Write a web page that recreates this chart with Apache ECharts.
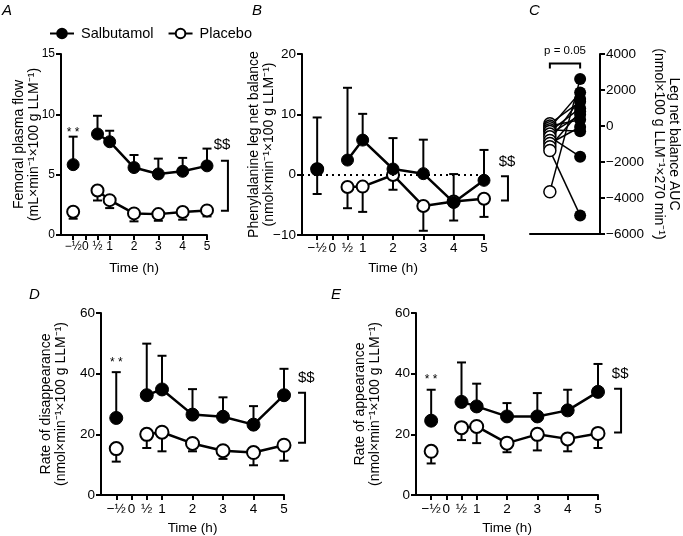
<!DOCTYPE html>
<html><head><meta charset="utf-8">
<script src="https://cdn.jsdelivr.net/npm/echarts@6/dist/echarts.min.js"></script>
<style>html,body{margin:0;padding:0;background:#fff}#c{width:683px;height:536px}</style>
</head><body><div id="c"></div>
<script>
// ---------- data ----------
const timePoints = [-0.5, 0.5, 1, 2, 3, 4, 5];
const xTickValues = [-0.5, 0, 0.5, 1, 2, 3, 4, 5];

// A: femoral plasma flow
const flowSal    = [5.83, 8.37, 7.73, 5.59, 5.06, 5.28, 5.73];
const flowSalErr = [8.15, 9.88, 8.64, 6.63, 6.33, 6.39, 7.16];
const flowPla    = [1.93, 3.69, 2.89, 1.79, 1.73, 1.90, 2.04];
const flowPlaErr = [1.35, 2.86, 2.23, 1.13, 1.18, 1.27, 1.54];

// B: phenylalanine leg net balance
const pheSal    = [0.94, 2.42, 5.73, 0.94, 0.17, -4.6, -0.94];
const pheSalErr = [9.48, 14.4, 10.08, 6.06, 5.8, 0.1, 4.1];
const phePla    = [0.9, -2.04, -1.98, -0.05, -5.2, -4.45, -4.0];
const phePlaErr = [-3.2, -5.56, -6.17, -2.5, -9.3, -7.6, -7.0];

// C: leg net balance AUC (paired)
const aucPla = [126, 0, -100, -203, -300, -450, -604, -800, -972, -1150, -1357, -3648];
const aucSal = [1352, 346, 1868, -297, 989, 621, -1703, 1500, -55, 800, -4967, 2615];

// D: rate of disappearance
const rdSal    = [25.4, 32.9, 34.8, 26.5, 25.8, 23.2, 32.9];
const rdSalErr = [40.5, 49.9, 45.9, 34.9, 32.2, 29.3, 41.6];
const rdPla    = [15.3, 20.0, 20.7, 17.0, 14.6, 14.0, 16.4];
const rdPlaErr = [11.0, 15.5, 14.4, 14.4, 11.9, 9.8, 11.3];

// E: rate of appearance
const raSal    = [24.5, 30.7, 29.2, 25.9, 25.9, 27.9, 34.0];
const raSalErr = [34.7, 43.7, 36.7, 30.3, 33.6, 34.7, 43.2];
const raPla    = [14.4, 22.2, 22.6, 17.1, 20.0, 18.5, 20.3];
const raPlaErr = [10.4, 18.1, 17.1, 14.1, 14.7, 14.4, 15.5];

// ---------- helpers ----------
const FONT = '"Liberation Sans", Arial, Helvetica, sans-serif';
const BLACK = '#000';
const fmtX = v => v === -0.5 ? '\u2212\u00bd' : (v === 0.5 ? '\u00bd' : String(v));
const fmtY = v => String(v).replace('-', '\u2212');

function timeX(gi, fs, labelMargin, nameGap) {
  return {
    type: 'value', gridIndex: gi, min: -1, max: 5,
    axisLine: { show: true, onZero: false, lineStyle: { color: BLACK, width: 2 } },
    axisTick: { show: true, customValues: xTickValues, length: 5, lineStyle: { color: BLACK, width: 2 } },
    axisLabel: { show: true, customValues: xTickValues, formatter: fmtX, color: BLACK, fontSize: fs, fontFamily: FONT, margin: labelMargin },
    splitLine: { show: false },
    name: 'Time (h)', nameLocation: 'middle', nameGap: nameGap, nameMoveOverlap: false,
    nameTextStyle: { color: BLACK, fontSize: 13.5, fontFamily: FONT }
  };
}
function valY(gi, min, max, interval, fs, name, nameGap, extra) {
  return Object.assign({
    type: 'value', gridIndex: gi, min: min, max: max, interval: interval,
    axisLine: { show: true, onZero: false, lineStyle: { color: BLACK, width: 2 } },
    axisTick: { show: true, length: 5, lineStyle: { color: BLACK, width: 2 } },
    axisLabel: { formatter: fmtY, color: BLACK, fontSize: fs, fontFamily: FONT, margin: 6 },
    splitLine: { show: false },
    name: name, nameLocation: 'middle', nameGap: nameGap, nameMoveOverlap: false,
    nameTextStyle: { color: BLACK, fontSize: 14, fontFamily: FONT, lineHeight: 15.5 }
  }, extra || {});
}
function errSeries(gi, vals, ends) {
  return {
    type: 'custom', xAxisIndex: gi, yAxisIndex: gi, silent: true, z: 1, clip: false,
    data: timePoints.map((t, i) => [t, vals[i], ends[i]]),
    renderItem: (p, api) => {
      const a = api.coord([api.value(0), api.value(1)]);
      const b = api.coord([api.value(0), api.value(2)]);
      const w = 4.5;
      return { type: 'group', children: [
        { type: 'line', shape: { x1: a[0], y1: a[1], x2: b[0], y2: b[1] }, style: { stroke: BLACK, lineWidth: 2 } },
        { type: 'line', shape: { x1: b[0] - w, y1: b[1], x2: b[0] + w, y2: b[1] }, style: { stroke: BLACK, lineWidth: 2 } }
      ] };
    }
  };
}
function lineData(vals) {
  const d = [[timePoints[0], vals[0]], [0, '-']];
  for (let i = 1; i < timePoints.length; i++) d.push([timePoints[i], vals[i]]);
  return d;
}
function lineSeries(gi, name, vals, filled, size) {
  return {
    type: 'line', name: name, xAxisIndex: gi, yAxisIndex: gi,
    data: lineData(vals), connectNulls: false, z: filled ? 4 : 3,
    symbol: 'circle', symbolSize: size, showAllSymbol: true,
    lineStyle: { color: BLACK, width: 2.5 },
    itemStyle: filled ? { color: BLACK, borderColor: BLACK, borderWidth: 1, opacity: 1 }
                      : { color: '#fff', borderColor: BLACK, borderWidth: 2, opacity: 1 },
    emphasis: { disabled: true }, animation: false
  };
}
// annotation layer in data coordinates
function annot(gi, items) {
  return {
    type: 'custom', xAxisIndex: gi, yAxisIndex: gi, silent: true, z: 6, clip: false,
    data: [[0, 0]],
    renderItem: (p, api) => {
      const ch = [];
      items.forEach(it => {
        if (it.kind === 'text') {
          const c = api.coord(it.at);
          ch.push({ type: 'text', style: { text: it.text, x: c[0], y: c[1] + (it.dy || 0), fill: BLACK,
            fontSize: it.size, fontFamily: FONT, align: 'center', verticalAlign: 'middle' } });
        } else if (it.kind === 'sideBracket') {
          const t = api.coord([it.x, it.y1]), b = api.coord([it.x, it.y2]);
          ch.push({ type: 'polyline', shape: { points: [[t[0] - 7, t[1]], [t[0], t[1]], [b[0], b[1]], [b[0] - 7, b[1]]] },
            style: { stroke: BLACK, lineWidth: 2, fill: null } });
        } else if (it.kind === 'topBracket') {
          const l = api.coord([it.x1, it.y]), r = api.coord([it.x2, it.y]);
          ch.push({ type: 'polyline', shape: { points: [[l[0], l[1] + 5], [l[0], l[1]], [r[0], r[1]], [r[0], r[1] + 5]] },
            style: { stroke: BLACK, lineWidth: 2, fill: null } });
        }
      });
      return { type: 'group', children: ch };
    }
  };
}

// ---------- option ----------
const grids = [
  { left: 61, top: 54, width: 146, height: 181 },   // A
  { left: 302, top: 54, width: 182, height: 181 },  // B
  { left: 530, top: 54, width: 74, height: 180 },   // C
  { left: 101, top: 313, width: 183, height: 182 }, // D
  { left: 416, top: 313, width: 182, height: 182 }  // E
];

const xAxes = [
  timeX(0, 12, 6, 26),
  timeX(1, 13.5, 6, 26),
  { type: 'value', gridIndex: 2, min: -0.656, max: 1.656,
    axisLine: { show: true, onZero: false, lineStyle: { color: BLACK, width: 2 } },
    axisTick: { show: false }, axisLabel: { show: false }, splitLine: { show: false } },
  timeX(3, 13.5, 7, 26),
  timeX(4, 13.5, 7, 26)
];
const yAxes = [
  valY(0, 0, 15, 5, 12, 'Femoral plasma flow\n(mL\u00d7min\u207b\u00b9\u00d7100 g LLM\u207b\u00b9)', 19),
  valY(1, -10, 20, 10, 13.5, 'Phenylalanine leg net balance\n(nmol\u00d7min\u207b\u00b9\u00d7100 g LLM\u207b\u00b9)', 25),
  valY(2, -6000, 4000, 2000, 13.5, 'Leg net balance AUC\n(nmol\u00d7100 g LLM\u207b\u00b9\u00d7270 min\u207b\u00b9)', 51,
       { position: 'right', nameRotate: -90 }),
  valY(3, 0, 60, 20, 13.5, 'Rate of disappearance\n(nmol\u00d7min\u207b\u00b9\u00d7100 g LLM\u207b\u00b9)', 32),
  valY(4, 0, 60, 20, 13.5, 'Rate of appearance\n(nmol\u00d7min\u207b\u00b9\u00d7100 g LLM\u207b\u00b9)', 33)
];

const series = [];
function addPanel(gi, sal, salErr, pla, plaErr, size) {
  series.push(errSeries(gi, pla, plaErr));
  series.push(errSeries(gi, sal, salErr));
  series.push(lineSeries(gi, 'Placebo', pla, false, size));
  series.push(lineSeries(gi, 'Salbutamol', sal, true, size));
}
addPanel(0, flowSal, flowSalErr, flowPla, flowPlaErr, 12);
addPanel(1, pheSal, pheSalErr, phePla, phePlaErr, 12);
addPanel(3, rdSal, rdSalErr, rdPla, rdPlaErr, 13);
addPanel(4, raSal, raSalErr, raPla, raPlaErr, 13);

// dotted zero line in B
series[5].markLine = { silent: true, symbol: 'none', label: { show: false },
  lineStyle: { type: [2, 4], color: BLACK, width: 2 }, data: [{ yAxis: 0 }], animation: false };

// C: paired lines + points
series.push({
  type: 'custom', xAxisIndex: 2, yAxisIndex: 2, silent: true, z: 2, clip: false,
  data: aucPla.map((v, i) => [v, aucSal[i]]),
  renderItem: (p, api) => {
    const a = api.coord([0, api.value(0)]), b = api.coord([1, api.value(1)]);
    return { type: 'line', shape: { x1: a[0], y1: a[1], x2: b[0], y2: b[1] }, style: { stroke: BLACK, lineWidth: 1.5 } };
  }
});
series.push({ type: 'scatter', name: 'Placebo', xAxisIndex: 2, yAxisIndex: 2, z: 3,
  data: aucPla.map(v => [0, v]), symbol: 'circle', symbolSize: 12,
  itemStyle: { color: '#fff', borderColor: BLACK, borderWidth: 1.5, opacity: 1 }, emphasis: { disabled: true } });
series.push({ type: 'scatter', name: 'Salbutamol', xAxisIndex: 2, yAxisIndex: 2, z: 4,
  data: aucSal.map(v => [1, v]), symbol: 'circle', symbolSize: 12,
  itemStyle: { color: BLACK, opacity: 1 }, emphasis: { disabled: true } });

// annotations
series.push(annot(0, [
  { kind: 'text', at: [-0.5, 8.7], text: '* *', size: 12, dy: 3 },
  { kind: 'text', at: [5.62, 7.5], text: '$$', size: 15 },
  { kind: 'sideBracket', x: 5.86, y1: 6.15, y2: 2.0 }
]));
series.push(annot(1, [
  { kind: 'text', at: [5.76, 2.2], text: '$$', size: 15 },
  { kind: 'sideBracket', x: 5.79, y1: -0.28, y2: -4.3 }
]));
series.push(annot(2, [
  { kind: 'text', at: [0.5, 4190], text: 'p = 0.05', size: 11.5 },
  { kind: 'topBracket', x1: 0, x2: 1, y: 3478 }
]));
series.push(annot(3, [
  { kind: 'text', at: [-0.5, 44.6], text: '* *', size: 12, dy: 3 },
  { kind: 'text', at: [5.73, 38.7], text: '$$', size: 15 },
  { kind: 'sideBracket', x: 5.69, y1: 33.7, y2: 17.2 }
]));
series.push(annot(4, [
  { kind: 'text', at: [-0.5, 39.1], text: '* *', size: 12, dy: 3 },
  { kind: 'text', at: [5.73, 40.0], text: '$$', size: 15 },
  { kind: 'sideBracket', x: 5.76, y1: 35.0, y2: 20.6 }
]));

const letter = (t, x, y) => ({ type: 'text', left: x, top: y,
  style: { text: t, fontSize: 15, fontStyle: 'italic', fontFamily: FONT, fill: BLACK } });

const option = {
  animation: false,
  backgroundColor: '#fff',
  textStyle: { fontFamily: FONT },
  grid: grids,
  xAxis: xAxes,
  yAxis: yAxes,
  legend: {
    left: 44, top: 21, itemWidth: 24, itemHeight: 12, itemGap: 14,
    selectedMode: false, data: ['Salbutamol', 'Placebo'],
    textStyle: { color: BLACK, fontSize: 14.5, fontFamily: FONT, padding: [0, 0, 0, 2] }
  },
  graphic: [
    letter('A', 2, 3), letter('B', 252, 3), letter('C', 529, 3),
    letter('D', 29, 287), letter('E', 331, 287)
  ],
  series: series
};

const chart = echarts.init(document.getElementById('c'), null, { renderer: 'canvas' });
chart.setOption(option);
</script>
</body></html>
